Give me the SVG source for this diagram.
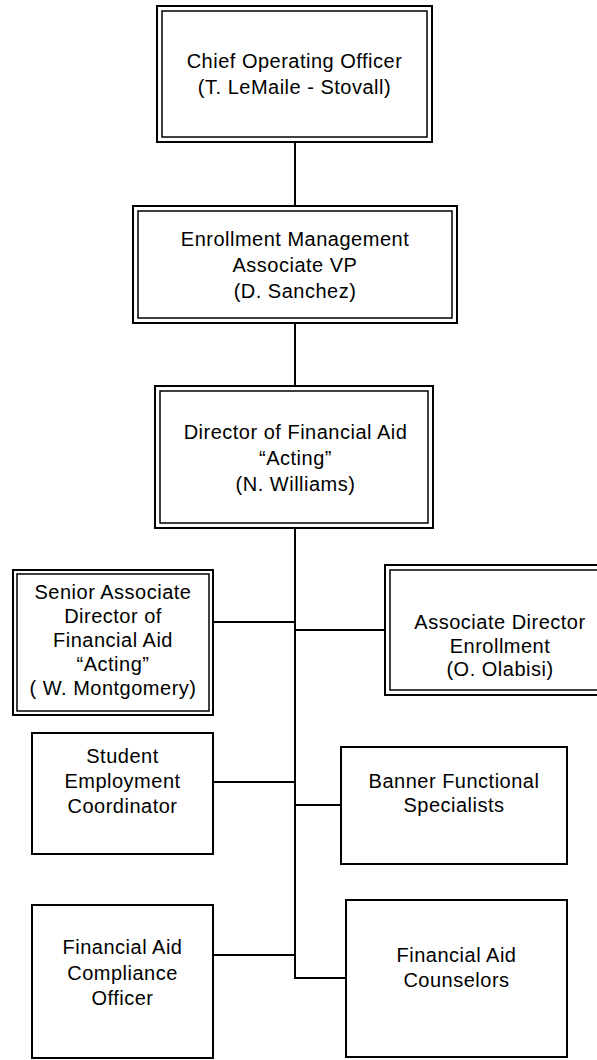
<svg xmlns="http://www.w3.org/2000/svg" width="597" height="1060" viewBox="0 0 597 1060">
<style>
.o{fill:#fff;stroke:#000;stroke-width:2}
.i{fill:none;stroke:#000;stroke-width:1.5}
.s{fill:#fff;stroke:#000;stroke-width:2}
.c{fill:none;stroke:#000;stroke-width:2}
text{font-family:"Liberation Sans",Arial,sans-serif;font-size:20px;letter-spacing:0.5px;fill:#000;text-anchor:middle}
</style>
<rect width="597" height="1060" fill="#fff"/>
<g id="connectors">
<line class="c" x1="295" y1="142" x2="295" y2="206"/>
<line class="c" x1="295" y1="323" x2="295" y2="386"/>
<polyline class="c" points="295,528 295,978 346,978"/>
<line class="c" x1="213" y1="622" x2="295" y2="622"/>
<line class="c" x1="295" y1="630" x2="385" y2="630"/>
<line class="c" x1="213" y1="782" x2="295" y2="782"/>
<line class="c" x1="295" y1="805" x2="341" y2="805"/>
<line class="c" x1="213" y1="955" x2="295" y2="955"/>
</g>
<g id="coo">
<rect class="o" x="157" y="6" width="275" height="136"/>
<rect class="i" x="162" y="11" width="265" height="126"/>
<text x="294.5" y="68">Chief Operating Officer</text>
<text x="294.5" y="94">(T. LeMaile - Stovall)</text>
</g>
<g id="enrollment-vp">
<rect class="o" x="133" y="206" width="324" height="117"/>
<rect class="i" x="138" y="211" width="314" height="107"/>
<text x="295" y="246">Enrollment Management</text>
<text x="295" y="272">Associate VP</text>
<text x="295" y="298">(D. Sanchez)</text>
</g>
<g id="director">
<rect class="o" x="155" y="386" width="278" height="142"/>
<rect class="i" x="160" y="391" width="268" height="132"/>
<text x="295.5" y="439">Director of Financial Aid</text>
<text x="295.5" y="465">“Acting”</text>
<text x="295.5" y="491">(N. Williams)</text>
</g>
<g id="senior-associate">
<rect class="o" x="13" y="570" width="200" height="145"/>
<rect class="i" x="17" y="574" width="192" height="137"/>
<text x="113" y="599">Senior Associate</text>
<text x="113" y="623">Director of</text>
<text x="113" y="647">Financial Aid</text>
<text x="113" y="671">“Acting”</text>
<text x="113" y="695">( W. Montgomery)</text>
</g>
<g id="associate-director">
<rect class="o" x="385" y="565" width="230" height="130"/>
<rect class="i" x="390" y="570" width="220" height="120"/>
<text x="500" y="629">Associate Director</text>
<text x="500" y="653">Enrollment</text>
<text x="500" y="676">(O. Olabisi)</text>
</g>
<g id="student-employment">
<rect class="s" x="32" y="733" width="181" height="121"/>
<text x="122.5" y="763">Student</text>
<text x="122.5" y="788">Employment</text>
<text x="122.5" y="813">Coordinator</text>
</g>
<g id="banner">
<rect class="s" x="341" y="747" width="226" height="117"/>
<text x="454" y="788">Banner Functional</text>
<text x="454" y="812">Specialists</text>
</g>
<g id="compliance">
<rect class="s" x="32" y="905" width="181" height="153"/>
<text x="122.5" y="954">Financial Aid</text>
<text x="122.5" y="980">Compliance</text>
<text x="122.5" y="1005">Officer</text>
</g>
<g id="counselors">
<rect class="s" x="346" y="900" width="221" height="157"/>
<text x="456.5" y="962">Financial Aid</text>
<text x="456.5" y="987">Counselors</text>
</g>
</svg>
